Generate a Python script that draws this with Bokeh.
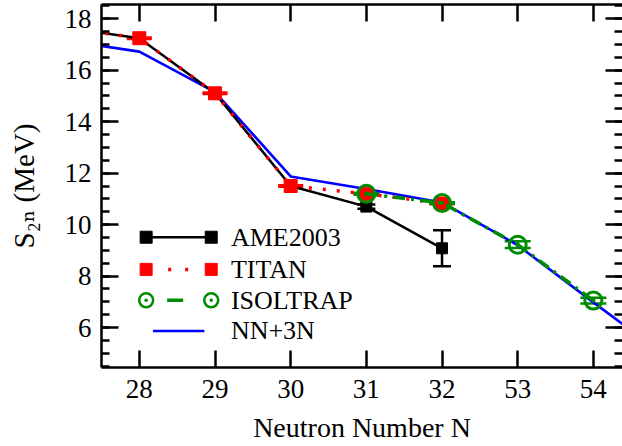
import numpy as np
from bokeh.plotting import figure
from bokeh.models import (ColumnDataSource, Whisker, TeeHead, LinearAxis, FixedTicker,
                          Range1d, CustomJSTickFormatter)
from bokeh.embed import file_html
from bokeh.resources import INLINE
from bokeh.core.properties import value

# ---------------- data ----------------
ame_n = [27, 28, 29, 30, 31, 32]
ame_s2n = [17.66, 17.24, 15.10, 11.50, 10.70, 9.08]
ame_err = [0.0, 0.0, 0.0, 0.0, 0.08, 0.70]

titan_n = [27, 28, 29, 30, 31, 32]
titan_s2n = [17.66, 17.24, 15.10, 11.50, 11.20, 10.82]
titan_err = [0.03, 0.03, 0.03, 0.03, 0.03, 0.03]

isol_n = [31, 32, 33, 34]
isol_s2n = [11.20, 10.84, 9.22, 7.05]
isol_err = [0.03, 0.03, 0.13, 0.11]

theo_n = [27, 28, 29, 30, 31, 32, 33, 34, 35]
theo_s2n = [17.16, 16.72, 15.15, 11.87, 11.38, 10.86, 9.20, 6.98, 4.80]

x_ticks = [28, 29, 30, 31, 32, 33, 34]
x_tick_labels = ["28", "29", "30", "31", "32", "53", "54"]
y_ticks = [6, 8, 10, 12, 14, 16, 18]

legend_names = ["AME2003", "TITAN", "ISOLTRAP", "NN+3N"]
x_title = "Neutron Number N"
y_title = "S\u2082\u2099 (MeV)"

# ---------------- styles / layout ----------------
BLACK = "#000000"
RED = "#ff0000"
GREEN = "#008c00"
BLUE = "#0000ff"
FONT = "'Liberation Serif', 'Times New Roman', Times, 'DejaVu Serif', serif"

p = figure(width=622, height=446, x_range=Range1d(27.5, 34.385), y_range=Range1d(4.45, 18.55),
           output_backend="svg", toolbar_location=None,
           min_border_left=101, min_border_right=0, min_border_top=4, min_border_bottom=79)
p.xgrid.visible = False
p.ygrid.visible = False
p.outline_line_color = None
p.background_fill_color = "white"
p.border_fill_color = "white"

xt = FixedTicker(ticks=x_ticks, minor_ticks=[])
yt = FixedTicker(ticks=y_ticks, minor_ticks=list(np.arange(4.5, 18.51, 0.5)))

bottom_ax = p.below[0]
left_ax = p.left[0]
bottom_ax.ticker = xt
left_ax.ticker = yt
bottom_ax.major_label_overrides = {t: l for t, l in zip(x_ticks, x_tick_labels)}

blank = CustomJSTickFormatter(code="return ''")
top_ax = LinearAxis(ticker=xt, formatter=blank, major_label_standoff=0)
right_ax = LinearAxis(ticker=yt, formatter=blank, major_label_standoff=0)
p.add_layout(top_ax, "above")
p.add_layout(right_ax, "right")

for ax in [bottom_ax, left_ax, top_ax, right_ax]:
    ax.axis_line_width = 2.5
    ax.axis_line_color = BLACK
    ax.major_tick_line_width = 2.5
    ax.minor_tick_line_width = 2.5
    ax.major_tick_line_color = BLACK
    ax.minor_tick_line_color = BLACK
    ax.major_tick_in = 17
    ax.major_tick_out = 0
    ax.minor_tick_in = 8
    ax.minor_tick_out = 0
right_ax.axis_line_color = None
for ax in [bottom_ax, left_ax]:
    ax.major_label_text_font = FONT
    ax.major_label_text_font_size = "27px"
    ax.major_label_text_color = BLACK
    ax.axis_label_text_font = FONT
    ax.axis_label_text_font_style = "normal"
    ax.axis_label_text_color = BLACK
bottom_ax.major_label_standoff = 12
left_ax.major_label_standoff = 10

bottom_ax.axis_label = x_title
bottom_ax.axis_label_text_font_size = "28px"
bottom_ax.axis_label_standoff = 11
left_ax.axis_label = y_title
left_ax.axis_label_text_font_size = "29px"
left_ax.axis_label_standoff = 22

# ---------------- data glyphs ----------------
p.line(theo_n, theo_s2n, line_color=BLUE, line_width=2.6)

# AME2003
src_ame = ColumnDataSource(dict(x=ame_n, y=ame_s2n,
                                up=np.array(ame_s2n) + np.array(ame_err),
                                lo=np.array(ame_s2n) - np.array(ame_err)))
p.line("x", "y", source=src_ame, line_color=BLACK, line_width=2.5)
p.add_layout(Whisker(base="x", upper="up", lower="lo", source=src_ame, dimension="height",
                     line_color=BLACK, line_width=2.5,
                     upper_head=TeeHead(size=18, line_width=2.5, line_color=BLACK),
                     lower_head=TeeHead(size=18, line_width=2.5, line_color=BLACK)))
p.scatter("x", "y", source=src_ame, marker="square", size=11, fill_color=BLACK, line_color=BLACK)

# TITAN
src_ti = ColumnDataSource(dict(x=titan_n, y=titan_s2n,
                               up=np.array(titan_s2n) + np.array(titan_err),
                               lo=np.array(titan_s2n) - np.array(titan_err)))
p.line("x", "y", source=src_ti, line_color=RED, line_width=3.5, line_dash="3 11")
p.add_layout(Whisker(base="x", upper="up", lower="lo", source=src_ti, dimension="height",
                     line_color=RED, line_width=2.5,
                     upper_head=TeeHead(size=25, line_width=2.5, line_color=RED),
                     lower_head=TeeHead(size=25, line_width=2.5, line_color=RED)))
p.scatter("x", "y", source=src_ti, marker="square", size=13, fill_color=RED, line_color=RED)

# ISOLTRAP
src_is = ColumnDataSource(dict(x=isol_n, y=isol_s2n,
                               up=np.array(isol_s2n) + np.array(isol_err),
                               lo=np.array(isol_s2n) - np.array(isol_err)))
p.line("x", "y", source=src_is, line_color=GREEN, line_width=3.5, line_dash="12 6 3 6")
p.add_layout(Whisker(base="x", upper="up", lower="lo", source=src_is, dimension="height",
                     line_color=GREEN, line_width=2.5,
                     upper_head=TeeHead(size=26, line_width=2.5, line_color=GREEN),
                     lower_head=TeeHead(size=26, line_width=2.5, line_color=GREEN)))
p.scatter("x", "y", source=src_is, marker="circle_dot", size=17, fill_alpha=0,
          line_color=GREEN, line_width=3)

# ---------------- legend (drawn by hand) ----------------
leg_x0, leg_x1, leg_tx = 28.09, 28.95, 29.21
leg_rows = [9.51, 8.26, 7.06, 5.87]

p.segment(x0=[leg_x0], y0=[leg_rows[0]], x1=[leg_x1], y1=[leg_rows[0]], line_color=BLACK, line_width=2.5)
p.scatter([leg_x0, leg_x1], [leg_rows[0]] * 2, marker="square", size=12, fill_color=BLACK, line_color=BLACK)

p.segment(x0=[leg_x0], y0=[leg_rows[1]], x1=[leg_x1], y1=[leg_rows[1]], line_color=RED, line_width=3.5,
          line_dash="0 22 3 14 3 100")
p.scatter([leg_x0, leg_x1], [leg_rows[1]] * 2, marker="square", size=12, fill_color=RED, line_color=RED)

p.segment(x0=[leg_x0], y0=[leg_rows[2]], x1=[leg_x1], y1=[leg_rows[2]], line_color=GREEN, line_width=3.5,
          line_dash="0 21 16 100")
p.scatter([leg_x0, leg_x1], [leg_rows[2]] * 2, marker="circle_dot", size=14, fill_color="white",
          line_color=GREEN, line_width=2.5)

p.segment(x0=[28.18], y0=[leg_rows[3]], x1=[28.86], y1=[leg_rows[3]], line_color=BLUE, line_width=2.6)

p.text(x=[leg_tx] * 4, y=leg_rows, text=legend_names, text_font=value(FONT),
       text_font_size=value("26px"), text_baseline="middle", text_align="left", text_color=BLACK)

open("out.html", "w").write(file_html(p, INLINE))
